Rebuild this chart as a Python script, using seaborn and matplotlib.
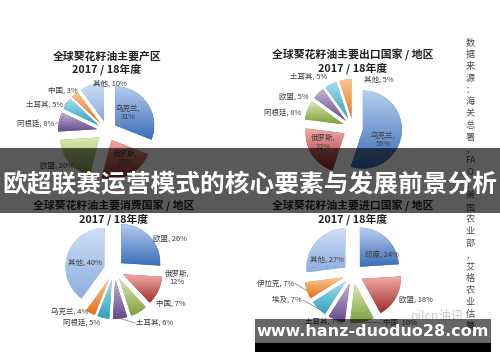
import numpy as np
import matplotlib
matplotlib.use("Agg")
import matplotlib.pyplot as plt
import seaborn as sns
from matplotlib.colors import LinearSegmentedColormap
from matplotlib.patches import Rectangle

# data (share in %)
prod_names = ["乌克兰", "俄罗斯", "欧盟", "阿根廷", "土耳其", "中国", "其他"]
prod_share = [31, 23, 20, 8, 5, 3, 10]

export_names = ["乌克兰", "俄罗斯", "阿根廷", "欧盟", "土耳其", "其他"]
export_share = [55, 22, 8, 5, 5, 5]

consume_names = ["欧盟", "俄罗斯", "中国", "土耳其", "阿根廷", "乌克兰", "其他"]
consume_share = [26, 12, 7, 6, 5, 4, 40]

import_names = ["印度", "欧盟", "中国", "土耳其", "埃及", "伊拉克", "其他"]
import_share = [24, 18, 10, 7, 7, 7, 27]

chart_titles = ["全球葵花籽油主要产区", "全球葵花籽油主要出口国家 / 地区",
                "全球葵花籽油主要消费国家 / 地区", "全球葵花籽油主要进口国家 / 地区"]
season = "2017 / 18年度"
source_note = "数据来源：海关总署，FAO，美国农业部，艾格农业估算"
banner_text = "欧超联赛运营模式的核心要素与发展前景分析"
url_text = "www.hanz-duoduo28.com"

sns.set_theme(style="white")
plt.rcParams["font.family"] = ["Noto Sans CJK SC", "DejaVu Sans"]

W, H = 500, 362
R = 39        # pie radius in px
GAP = 10      # explode offset in px

# excel style gradient fills: (light top, dark bottom)
palette = [("#b3cdf0", "#3a6cb6"), ("#f3aaa8", "#9e2e2b"), ("#dcebb6", "#7f9e3c"),
           ("#c2b3d8", "#65498e"), ("#a9e0ee", "#2e9fc0"), ("#fcc894", "#e2731b"),
           ("#d0e0f6", "#8caee0")]

fig = plt.figure(figsize=(5, 3.62), dpi=100)
ax = fig.add_axes([0, 0, 1, 1])
leaders = []


def draw_pie(names, shares, cx, cy, title, title_y, lab_r, lab_shift, wrap=(), lead=()):
    wedges, _ = ax.pie(shares, center=(cx, H - cy), radius=R, startangle=90,
                       counterclock=False, explode=[GAP] * len(shares),
                       colors=[c[1] for c in palette[:len(shares)]],
                       wedgeprops=dict(linewidth=0))
    for i, w in enumerate(wedges):
        lo, hi = palette[i]
        ext = w.get_path().get_extents()
        cmap = LinearSegmentedColormap.from_list("g%d" % i, [lo, hi])
        im = ax.imshow(np.linspace(0, 1, 64).reshape(-1, 1), cmap=cmap,
                       extent=[ext.x0, ext.x1, ext.y0, ext.y1],
                       aspect="auto", zorder=2, interpolation="bilinear")
        im.set_clip_path(w)
        mid = (w.theta1 + w.theta2) / 2
        ang = np.deg2rad(mid + lab_shift[i])
        sep = ",\n" if names[i] in wrap else ", "
        t = ax.text(cx + lab_r[i] * R * np.cos(ang), H - cy + lab_r[i] * R * np.sin(ang),
                    f"{names[i]}{sep}{shares[i]}%", ha="center", va="center",
                    fontsize=5.4, color="#3c3c3c", linespacing=1.1, zorder=4)
        if i in lead:
            leaders.append((w, np.deg2rad(mid), t))
    ax.text(cx, H - title_y, title, ha="center", va="center", fontsize=7.8,
            fontweight="bold", color="#202020", zorder=4)
    ax.text(cx, H - title_y - 13, season, ha="center", va="center", fontsize=7.8,
            fontweight="bold", color="#202020", zorder=4)


draw_pie(prod_names, prod_share, 107, 131, chart_titles[0], 56,
         [0.71, 0.83, 1.56, 1.83, 1.73, 1.54, 1.21],
         [6, 7, -5, 5, 11, 6, -22], wrap=("乌克兰", "俄罗斯"), lead=(3, 4))
draw_pie(export_names, export_share, 353, 128, chart_titles[1], 55,
         [0.83, 0.85, 1.84, 1.71, 1.74, 1.40],
         [-13, -7, 9.5, 17, 14, -37], wrap=("乌克兰", "俄罗斯"))
draw_pie(consume_names, consume_share, 114, 270, chart_titles[2], 206,
         [1.64, 1.63, 1.70, 1.72, 1.59, 1.56, 0.76],
         [-14, 18, 28.6, 30.5, -18.5, -17.5, 4], wrap=("俄罗斯",), lead=(3,))
draw_pie(import_names, import_share, 353, 274, chart_titles[3], 206,
         [0.89, 1.74, 1.74, 1.45, 1.82, 2.01, 0.76],
         [-13.6, 7, 33, -12, -23.5, -13, 13], lead=(2, 4, 5))

ax.set_xlim(0, W)
ax.set_ylim(0, H)
ax.set_aspect("auto")
ax.set_axis_off()

# leader lines from label edge to slice edge
renderer = fig.canvas.get_renderer()
for w, mid, t in leaders:
    bb = t.get_window_extent(renderer)
    tx, ty = t.get_position()
    ex = w.center[0] + R * np.cos(mid)
    ey = w.center[1] + R * np.sin(mid)
    sx = tx - bb.width / 2 - 1 if ex < tx else tx + bb.width / 2 + 1
    ax.plot([sx, ex], [ty, ey], color="#7a7a7a", lw=0.5, zorder=3)

# vertical source note on the right
tokens = []
buf = ""
for ch in source_note:
    if ch.isascii() and ch.isalpha():
        buf += ch
        if len(buf) == 2:
            tokens.append(buf)
            buf = ""
    else:
        if buf:
            tokens.append(buf)
            buf = ""
        tokens.append(ch)
step = (326 - 43) / (len(tokens) - 1)
for k, tok in enumerate(tokens):
    ax.text(470, H - (43 + k * step), tok, ha="center", va="center",
            fontsize=6.6, color="#4a4a4a", zorder=3)

# faint watermark
ax.text(437, H - 316, "oilcn油讯", ha="center", va="center", fontsize=9,
        color="#c9c9c9", zorder=3)

# title banner overlay
ax.add_patch(Rectangle((0, H - 213), W, 65, facecolor="black", alpha=0.65,
                       lw=0, zorder=10))
ax.text(W / 2, H - 185, banner_text, ha="center", va="center", fontsize=17.8,
        fontweight="bold", color="white", zorder=11)

# url box
ax.add_patch(Rectangle((255, H - 343), 236, 24, facecolor="black", alpha=0.6,
                       lw=0, zorder=10))
ax.add_patch(Rectangle((255, H - 352), 236, 9, facecolor="black", lw=0, zorder=10))
ax.text(373, H - 331, url_text, ha="center", va="center", fontsize=11.5,
        fontweight="bold", color="white", family="DejaVu Sans", zorder=11)

fig.savefig("out.png", dpi=100)
